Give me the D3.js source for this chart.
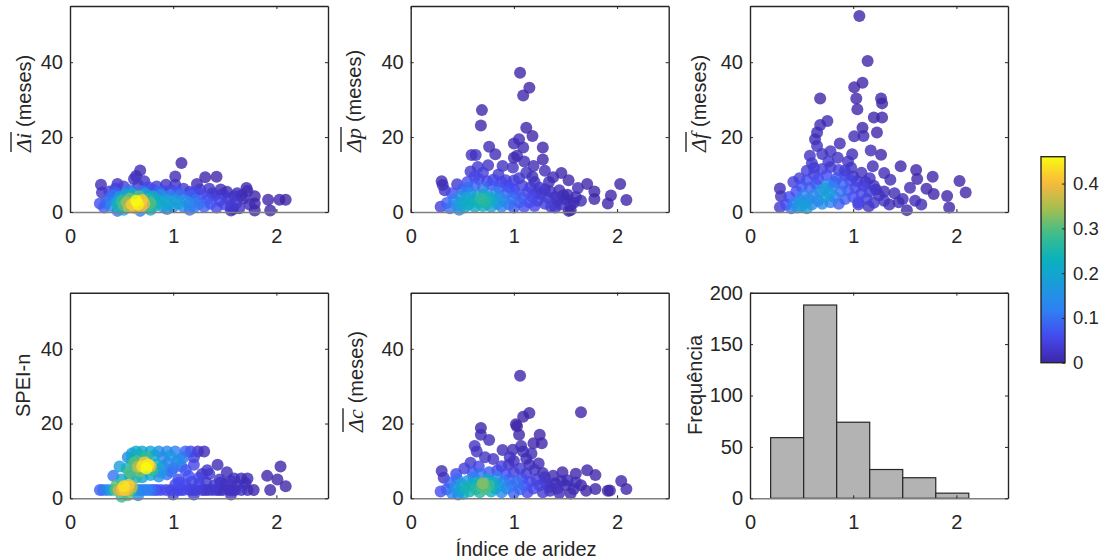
<!DOCTYPE html>
<html>
<head>
<meta charset="utf-8">
<script src="https://cdn.jsdelivr.net/npm/d3@7"></script>
<style>
  body { margin: 0; background: #fff; }
  text { font-family: Arial, "Liberation Sans", sans-serif; fill: #262626; }
</style>
</head>
<body>
<svg id="fig" width="1105" height="560"></svg>
<script>
// ticks
const xTicks = [0, 1, 2];
const yTicksScatter = [0, 20, 40];
const yTicksHist = [0, 50, 100, 150, 200];
const cbTicks = [0, 0.1, 0.2, 0.3, 0.4];

// histograma do indice de aridez
const histEdges = [0.2, 0.52, 0.84, 1.16, 1.48, 1.80, 2.12];
const histCounts = [59, 188, 74, 28, 20, 5];

// [indice de aridez, valor, cor]
const pontosDi = [
  [0.30,7.3,0.01],[0.31,5.2,0.02],[0.29,2.3,0.06],[0.33,1.2,0.08],[0.38,5.5,0.04],[0.44,6.2,0.04],
  [0.46,7.5,0.02],[0.46,0.3,0.10],[0.52,6.8,0.04],[0.58,5.8,0.08],[0.62,8.8,0.02],[0.64,9.6,0.01],
  [0.68,11.1,0.01],[0.66,7.2,0.03],[0.68,0.3,0.12],[0.72,8.2,0.02],[0.76,6.6,0.05],[0.80,6.0,0.06],
  [0.84,6.8,0.03],[0.90,5.6,0.05],[0.93,7.3,0.02],[0.98,5.8,0.05],[1.02,9.5,0.01],[1.02,7.3,0.02],
  [1.08,13.1,0.00],[1.10,6.2,0.03],[1.16,5.4,0.04],[1.23,7.5,0.01],[1.26,6.0,0.03],[1.31,9.3,0.00],
  [1.35,6.2,0.02],[1.42,9.4,0.00],[1.46,6.0,0.01],[1.52,5.4,0.01],[1.56,0.4,0.01],[1.58,0.8,0.01],
  [1.62,5.0,0.01],[1.71,6.4,0.00],[1.79,4.2,0.00],[1.79,2.3,0.00],[1.79,0.4,0.00],[1.92,3.3,0.00],
  [1.94,0.4,0.00],[2.03,3.3,0.00],[2.09,3.3,0.00],[1.72,5.6,0.01],[1.68,3.6,0.01],[1.74,2.0,0.01],
  [0.35,2.4,0.09],[0.38,3.6,0.10],[0.40,1.6,0.14],[0.42,4.4,0.10],[0.45,2.6,0.20],[0.47,1.2,0.24],
  [0.48,4.0,0.18],[0.50,3.0,0.28],[0.52,1.8,0.30],[0.54,4.6,0.20],[0.55,2.6,0.34],[0.57,1.2,0.36],
  [0.58,3.6,0.32],[0.60,2.0,0.42],[0.61,4.8,0.22],[0.63,1.0,0.38],[0.64,3.0,0.46],[0.66,2.0,0.45],
  [0.67,4.2,0.30],[0.69,1.4,0.40],[0.70,3.2,0.42],[0.72,2.2,0.38],[0.73,4.8,0.20],[0.75,1.2,0.28],
  [0.76,3.4,0.26],[0.78,2.4,0.30],[0.80,4.2,0.22],[0.82,1.6,0.24],[0.84,3.2,0.22],[0.86,2.4,0.20],
  [0.88,4.6,0.14],[0.90,1.4,0.18],[0.92,3.4,0.18],[0.95,2.2,0.20],[0.97,4.4,0.12],[1.00,1.4,0.15],
  [1.02,3.2,0.17],[1.05,2.2,0.18],[1.07,4.6,0.10],[1.10,1.4,0.13],[1.12,3.0,0.14],[1.15,2.2,0.14],
  [1.17,4.4,0.08],[1.20,1.2,0.11],[1.22,3.2,0.10],[1.25,2.2,0.10],[1.28,4.6,0.05],[1.30,1.4,0.08],
  [1.33,3.4,0.06],[1.36,2.2,0.07],[1.40,4.4,0.03],[1.42,1.2,0.05],[1.45,3.0,0.05],[1.48,4.8,0.02],
  [1.50,2.0,0.04],[1.53,3.6,0.03],[1.56,1.4,0.03],[1.59,4.2,0.02],[1.61,2.4,0.03],[1.64,1.0,0.02],
  [1.66,4.4,0.01],[0.44,5.2,0.08],[0.56,5.4,0.12],[0.70,5.6,0.10],[0.86,5.4,0.09],[1.04,5.4,0.07],
  [1.20,5.2,0.05],[1.38,5.0,0.03],[0.52,0.6,0.22],[0.78,0.6,0.2],[0.94,0.8,0.14],[1.16,0.6,0.1]
];

const pontosDp = [
  [1.06,37.2,0],[1.15,33.2,0],[1.09,31.1,0],[0.69,27.2,0],[0.68,23.1,0],[1.12,22.5,0],[1.18,20.3,0],
  [1.05,19.4,0.01],[1.00,18.3,0.01],[1.09,17.2,0.01],[1.28,17.2,0],[0.76,17.4,0.01],[0.82,15.4,0.01],
  [0.59,15.2,0.02],[0.63,15.2,0.02],[0.89,12.3,0.02],[0.99,11.9,0.02],[1.00,14.5,0.01],[1.03,15.0,0.01],
  [1.19,12.3,0.01],[1.28,14.0,0],[1.30,11.0,0.01],[1.38,9.3,0.01],[1.46,10.4,0],[1.53,8.5,0],
  [1.71,7.5,0],[1.62,6.4,0.01],[1.78,5.5,0],[1.78,3.5,0],[2.03,7.5,0],[1.94,4.4,0],[1.91,2.3,0],
  [2.09,3.2,0],[0.30,8.2,0.01],[0.31,7.2,0.01],[0.33,5.8,0.02],[0.29,1.4,0.04],[0.45,7.4,0.03],
  [1.53,0.3,0],[1.55,0.5,0],[0.65,12.0,0.03],[0.70,10.5,0.04],[0.62,9.5,0.05],[0.75,12.5,0.02],
  [0.85,10.0,0.03],[0.92,8.5,0.04],[1.05,9.0,0.03],[1.12,10.5,0.02],[1.20,8.0,0.02],[1.25,6.5,0.03],
  [1.35,5.5,0.02],[1.42,3.0,0.02],[1.48,4.5,0.01],[1.58,2.5,0.01],[1.65,3.0,0.01],[1.40,1.2,0.02],
  [1.10,13.5,0.01],[0.96,6.5,0.06],[0.55,8.0,0.06],[0.50,6.0,0.08],[0.40,5.0,0.06],
  [0.35,2.4,0.08],[0.38,1.0,0.10],[0.42,3.2,0.12],[0.45,1.8,0.16],[0.47,0.6,0.14],[0.48,4.2,0.14],
  [0.50,2.6,0.20],[0.52,1.2,0.20],[0.54,3.8,0.19],[0.56,2.0,0.22],[0.58,5.0,0.14],[0.60,3.0,0.22],
  [0.62,1.4,0.20],[0.64,4.2,0.20],[0.66,2.4,0.24],[0.68,3.6,0.27],[0.70,1.6,0.22],[0.71,4.8,0.18],
  [0.72,3.0,0.26],[0.74,2.2,0.24],[0.76,4.0,0.22],[0.78,1.4,0.18],[0.80,3.2,0.20],[0.82,5.2,0.12],
  [0.84,2.2,0.16],[0.86,4.0,0.14],[0.88,1.4,0.12],[0.90,3.0,0.13],[0.93,5.0,0.08],[0.95,2.0,0.10],
  [0.98,3.6,0.10],[1.00,1.2,0.08],[1.02,4.8,0.07],[1.05,2.6,0.08],[1.08,3.8,0.07],[1.10,1.4,0.06],
  [1.13,5.2,0.05],[1.15,2.6,0.06],[1.18,4.0,0.05],[1.20,1.6,0.05],[1.23,3.0,0.04],[1.26,4.8,0.03],
  [1.30,2.2,0.04],[1.33,3.8,0.03],[1.36,1.4,0.03],[1.40,4.0,0.02],[1.45,2.0,0.02],[1.50,3.4,0.01],
  [1.55,2.0,0.01],[1.60,4.0,0.01],[0.55,6.5,0.10],[0.62,7.0,0.08],[0.70,6.5,0.10],[0.78,7.2,0.07],
  [0.86,6.4,0.07],[0.94,7.0,0.05],[1.00,6.0,0.05],[0.66,8.8,0.05],[0.74,8.2,0.05],
  [0.80,8.6,0.05],[0.88,8.0,0.05],[1.00,8.4,0.04],[1.08,7.0,0.04],[1.16,6.6,0.03],[1.22,5.2,0.03],
  [1.30,6.0,0.02],[1.44,5.8,0.01],[1.52,4.6,0.01],[1.34,8.0,0.01],[1.18,9.4,0.01],[0.58,10.8,0.03]
];

const pontosDf = [
  [1.06,52.3,0],[1.14,40.3,0],[1.09,34.5,0],[1.01,33.3,0],[1.03,30.3,0],[1.04,27.4,0],[0.68,30.3,0],
  [1.27,30.3,0],[1.28,29.0,0],[1.28,25.2,0],[1.20,25.2,0],[0.75,24.3,0.01],[0.68,23.2,0.01],[1.23,21.2,0],
  [1.09,22.5,0],[1.10,20.3,0.01],[1.01,20.2,0.01],[0.65,21.2,0.01],[0.63,19.4,0.01],[0.65,17.6,0.02],
  [0.87,18.3,0.01],[0.78,16.2,0.02],[1.27,15.3,0],[1.17,16.4,0.01],[0.99,15.4,0.01],[1.46,12.2,0],
  [1.61,11.2,0],[1.77,9.4,0],[1.62,8.8,0],[2.03,8.3,0],[2.09,5.2,0],[1.91,4.3,0],[1.93,1.2,0],
  [1.78,4.8,0],[1.71,6.2,0],[1.52,0.5,0],[0.29,6.3,0.01],[0.30,4.2,0.02],[0.29,1.3,0.03],
  [1.36,8.6,0.01],[1.30,10.4,0.01],[1.19,12.2,0.01],[0.95,13.5,0.02],[0.85,14.5,0.02],[0.70,15.5,0.02],
  [0.60,13.0,0.03],[0.55,11.0,0.04],[0.48,9.0,0.04],[0.42,8.0,0.04],[1.40,5.0,0.01],[1.48,3.5,0.01],
  [1.55,6.5,0.01],[1.60,3.0,0.01],[1.66,2.0,0.01],[1.35,2.0,0.01],[1.15,1.5,0.02],[1.05,2.0,0.03],
  [1.00,9.5,0.02],[1.12,8.0,0.02],[0.92,11.0,0.03],[1.22,6.0,0.02],
  [0.35,2.0,0.06],[0.38,4.0,0.06],[0.40,1.0,0.10],[0.43,2.6,0.12],[0.45,5.5,0.06],[0.46,1.2,0.16],
  [0.48,3.2,0.14],[0.50,1.6,0.18],[0.52,4.5,0.12],[0.53,2.4,0.16],[0.55,1.0,0.18],[0.57,3.4,0.14],
  [0.58,6.5,0.08],[0.60,2.0,0.14],[0.62,4.5,0.13],[0.64,7.5,0.07],[0.66,3.0,0.14],[0.68,5.5,0.15],
  [0.70,2.2,0.14],[0.72,6.2,0.18],[0.73,4.0,0.18],[0.75,7.5,0.12],[0.77,5.0,0.17],[0.78,2.6,0.12],
  [0.80,6.8,0.12],[0.82,4.0,0.12],[0.84,9.0,0.07],[0.86,2.2,0.08],[0.88,5.5,0.10],[0.90,7.5,0.08],
  [0.92,3.5,0.08],[0.95,5.8,0.07],[0.97,8.5,0.05],[1.00,4.0,0.06],[1.02,6.5,0.05],[1.05,2.6,0.05],
  [1.08,5.0,0.05],[1.10,7.0,0.04],[1.13,3.5,0.04],[1.16,5.5,0.03],[1.20,2.5,0.03],[1.25,4.5,0.02],
  [1.30,3.0,0.02],[0.62,10.0,0.04],[0.70,11.5,0.04],[0.78,12.0,0.03],[0.66,8.8,0.06],[0.74,9.8,0.06],
  [0.86,11.2,0.04],[0.55,8.5,0.06],[0.50,6.8,0.07],[0.82,8.0,0.08],
  [0.92,9.8,0.04],[1.04,8.2,0.03],[1.08,10.5,0.02],[1.16,9.0,0.02],[1.20,7.0,0.02],[1.30,5.5,0.01],
  [1.44,2.6,0.01],[0.98,11.8,0.02],[0.76,13.5,0.03],[0.62,11.8,0.03],[0.58,15.0,0.02]
];

const pontosSpei = [
  [0.29,2.2,0.08],[0.32,2.2,0.10],[0.36,2.2,0.12],[0.40,2.2,0.20],[0.44,2.2,0.30],[0.47,2.2,0.36],
  [0.50,2.2,0.40],[0.53,2.2,0.42],[0.56,2.2,0.38],[0.59,2.2,0.30],[0.62,2.2,0.16],[0.66,2.2,0.10],
  [0.72,2.2,0.12],[0.78,2.2,0.10],[0.84,2.2,0.06],[0.98,2.2,0.05],[1.04,2.2,0.05],[1.10,2.2,0.05],
  [1.16,2.2,0.04],[1.22,2.2,0.04],[1.28,2.2,0.03],[1.34,2.2,0.03],[1.42,2.2,0.02],[1.48,2.2,0.02],
  [1.54,2.2,0.02],[1.60,2.2,0.02],[1.66,2.2,0.02],[1.72,2.2,0.01],[1.78,2.2,0.00],[1.94,2.2,0.00],
  [0.88,2.2,0.06],[0.93,2.2,0.05],[1.07,2.2,0.05],[1.19,2.2,0.04],[1.31,2.2,0.03],[1.38,2.2,0.03],
  [1.45,2.2,0.02],[1.57,2.2,0.02],[0.69,2.2,0.12],[0.75,2.2,0.12],[0.81,2.2,0.08],
  [0.50,0.4,0.28],[0.66,0.8,0.14],[1.00,1.0,0.05],[1.56,1.0,0.02],[0.56,0.8,0.3],[1.20,1.0,0.04],
  [0.45,3.5,0.30],[0.52,3.2,0.44],[0.57,3.6,0.42],[0.60,3.0,0.36],[1.02,3.6,0.05],[1.12,3.6,0.05],
  [1.25,3.8,0.04],[1.40,3.5,0.03],[1.50,3.8,0.02],[1.62,3.6,0.02],[2.09,3.2,0.00],
  [1.06,4.2,0.06],[1.18,4.4,0.05],[1.32,4.2,0.03],[1.46,4.2,0.02],[1.56,4.6,0.02],[1.70,4.0,0.01],
  [0.42,6.0,0.10],[0.50,5.0,0.20],[0.58,6.0,0.22],[0.64,5.5,0.25],[1.05,5.0,0.06],[1.15,6.0,0.06],
  [1.25,5.5,0.05],[1.35,6.5,0.03],[1.45,5.0,0.02],[1.59,5.3,0.01],[1.66,5.3,0.01],[1.72,5.3,0.01],
  [1.91,6.0,0.00],[2.01,5.0,0.00],[0.70,5.6,0.2],[0.78,6.2,0.2],[0.86,5.8,0.14],[0.94,6.4,0.1],
  [0.48,8.5,0.18],[0.55,8.0,0.24],[0.58,7.0,0.30],[0.62,9.5,0.30],[0.66,8.5,0.36],[0.70,8.5,0.44],
  [0.72,9.6,0.42],[0.74,8.0,0.46],[0.76,9.0,0.45],[0.78,8.6,0.40],[0.80,7.5,0.28],[0.84,9.0,0.22],
  [0.90,8.5,0.14],[0.95,9.5,0.12],[1.00,8.0,0.10],[1.08,8.5,0.08],[1.20,9.0,0.05],[1.33,7.5,0.02],
  [1.43,9.0,0.01],[1.52,7.0,0.01],[2.04,8.5,0.00],[1.28,6.5,0.02],[0.88,7.0,0.16],[0.98,7.2,0.1],
  [1.04,9.8,0.12],[1.12,7.5,0.07],[0.68,7.2,0.32],
  [0.56,11.0,0.14],[0.60,12.0,0.18],[0.64,12.5,0.20],[0.68,11.5,0.24],[0.70,12.5,0.20],[0.74,11.0,0.28],
  [0.78,12.5,0.20],[0.82,11.5,0.18],[0.86,12.5,0.14],[0.90,11.0,0.13],[0.97,11.4,0.16],[1.02,12.5,0.12],
  [1.06,10.4,0.15],[1.12,12.5,0.08],[1.17,12.5,0.05],[1.24,12.5,0.02],[1.30,12.5,0.01],[0.65,10.0,0.30],
  [0.60,10.5,0.22],[0.94,12.5,0.14],[1.10,11.0,0.1],[1.20,11.0,0.04]
];

const pontosDc = [
  [1.06,32.8,0],[1.65,23.0,0],[1.15,22.8,0],[1.09,21.8,0],[1.02,19.8,0],[1.03,19.3,0],[0.68,18.8,0],
  [0.68,17.0,0.01],[0.76,15.6,0.01],[1.05,17.0,0],[1.25,17.0,0],[1.27,14.7,0],[1.19,14.7,0],
  [0.89,12.9,0.01],[0.99,13.0,0.01],[1.07,14.0,0.01],[1.09,12.5,0.01],[0.62,14.0,0.02],[0.64,12.5,0.02],
  [1.17,12.0,0.01],[1.24,9.3,0.01],[1.28,6.8,0.01],[1.47,7.0,0],[1.60,6.6,0],[1.71,7.5,0],[1.79,6.2,0],
  [1.79,2.5,0],[2.04,4.6,0],[2.09,2.5,0],[1.93,2.1,0],[1.91,2.0,0],[0.30,7.3,0.01],[0.32,5.5,0.02],
  [0.29,1.8,0.06],[0.46,1.0,0.12],[1.55,1.3,0],[1.50,3.5,0.01],[1.40,4.0,0.01],[1.58,2.5,0.01],
  [1.65,3.5,0],[1.35,2.0,0.01],[0.80,10.5,0.02],[0.72,11.0,0.02],[0.95,9.0,0.02],[1.00,10.0,0.02],
  [1.15,9.0,0.01],[0.58,9.5,0.03],[0.52,8.0,0.04],[0.44,6.5,0.05],
  [0.35,2.4,0.08],[0.38,4.2,0.08],[0.40,1.4,0.12],[0.43,3.0,0.14],[0.45,5.2,0.10],[0.47,2.0,0.18],
  [0.49,3.8,0.18],[0.51,1.2,0.20],[0.53,2.8,0.24],[0.55,4.6,0.16],[0.57,1.8,0.24],[0.59,3.6,0.22],
  [0.61,5.6,0.12],[0.63,2.4,0.26],[0.65,4.2,0.24],[0.67,1.6,0.26],[0.69,3.2,0.30],[0.70,4.0,0.33],
  [0.72,2.4,0.30],[0.74,5.0,0.20],[0.76,3.4,0.28],[0.78,1.8,0.22],[0.80,4.2,0.22],[0.82,2.6,0.20],
  [0.84,5.6,0.12],[0.86,3.4,0.16],[0.88,1.6,0.14],[0.90,4.4,0.12],[0.93,2.6,0.12],[0.96,5.0,0.08],
  [0.98,3.4,0.10],[1.00,1.4,0.08],[1.03,4.2,0.10],[1.06,2.4,0.09],[1.08,5.2,0.06],[1.10,3.4,0.07],
  [1.13,1.6,0.05],[1.16,4.4,0.05],[1.19,2.6,0.05],[1.22,5.0,0.03],[1.25,3.4,0.04],[1.28,1.6,0.03],
  [1.31,4.0,0.02],[1.35,3.0,0.02],[1.42,2.6,0.02],[1.46,4.6,0.01],[0.60,7.0,0.07],[0.68,6.5,0.10],
  [0.76,7.0,0.07],[0.84,7.5,0.05],[0.92,6.5,0.06],[1.00,7.0,0.04],[0.66,8.5,0.05],
  [0.88,8.6,0.04],[1.06,8.0,0.03],[1.12,6.6,0.03],[1.20,7.6,0.02],[1.30,5.6,0.02],[1.38,6.0,0.01],
  [1.44,1.4,0.01],[1.52,4.8,0.01],[1.60,4.2,0.01],[1.70,2.0,0],[0.96,11.0,0.02],[1.12,10.6,0.01]
];

const svg = d3.select('#fig');
const fonte = 'Arial, "Liberation Sans", sans-serif';
const escuro = '#262626';

// mapa de cores tipo parula
const cMax = 0.46;
const parulaCores = ['#3e26a8','#4648ef','#2f7ff3','#1b9bde','#0bb1bc','#3cbd8c','#a5be4f','#fbb83e','#f9fb0e'];
const cor = d3.scaleLinear()
  .domain(parulaCores.map((d, i) => i / (parulaCores.length - 1) * cMax))
  .range(parulaCores)
  .clamp(true);

// layout das figuras
const colunas = [70, 410.7, 750];
const linhas = [[212, 6], [498.3, 292.7]];
const larg = 258;

function eixos(g, x, y, yt) {
  const [yb, ytop] = y.range();
  const [xl, xr] = x.range();
  const est = s => s.attr('font-size', 20).attr('font-family', fonte).attr('color', escuro);

  g.append('g').attr('transform', `translate(0,${yb})`)
    .call(d3.axisBottom(x).tickValues(xTicks).tickSize(-3).tickSizeOuter(0).tickPadding(17).tickFormat(d3.format('d')))
    .call(est)
    .call(a => a.select('.domain').attr('stroke', '#7f7f7f').attr('stroke-width', 1.6));
  g.append('g').attr('transform', `translate(0,${ytop})`)
    .call(d3.axisTop(x).tickValues(xTicks).tickSize(-3).tickSizeOuter(0).tickFormat(''))
    .call(est)
    .call(a => a.select('.domain').attr('stroke-width', 1.4));
  g.append('g').attr('transform', `translate(${xl},0)`)
    .call(d3.axisLeft(y).tickValues(yt).tickSize(-3).tickSizeOuter(0).tickPadding(7))
    .call(est)
    .call(a => a.select('.domain').attr('stroke-width', 1.4));
  g.append('g').attr('transform', `translate(${xr},0)`)
    .call(d3.axisRight(y).tickValues(yt).tickSize(-3).tickSizeOuter(0).tickFormat(''))
    .call(est)
    .call(a => a.select('.domain').attr('stroke-width', 1.4));
}

function rotuloY(p) {
  const lab = svg.append('g').attr('transform', `translate(${p.lx},${p.ly}) rotate(-90)`);
  const t = lab.append('text').attr('font-size', 20);
  if (p.sym) {
    const s = t.append('tspan')
      .attr('font-family', '"Liberation Serif", serif')
      .attr('font-style', 'italic')
      .attr('font-size', 22)
      .text(p.sym);
    t.append('tspan').attr('dx', 6).text('(meses)');
    const w = s.node().getComputedTextLength();
    lab.append('line')
      .attr('x1', 0).attr('x2', w + 1)
      .attr('y1', -20).attr('y2', -20)
      .attr('stroke', escuro).attr('stroke-width', 1.4);
  } else {
    t.text(p.txt);
  }
}

const paineis = [
  { pts: pontosDi,   col: 0, lin: 0, sym: 'Δi', lx: 31,  ly: 152 },
  { pts: pontosDp,   col: 1, lin: 0, sym: 'Δp', lx: 361, ly: 152 },
  { pts: pontosDf,   col: 2, lin: 0, sym: 'Δf', lx: 706, ly: 152 },
  { pts: pontosSpei, col: 0, lin: 1, txt: 'SPEI-n', lx: 30, ly: 417 },
  { pts: pontosDc,   col: 1, lin: 1, sym: 'Δc', lx: 363, ly: 432 }
];

paineis.forEach(p => {
  const x0 = colunas[p.col];
  const x = d3.scaleLinear().domain([0, 2.5]).range([x0, x0 + larg]);
  const y = d3.scaleLinear().domain([0, 55]).range(linhas[p.lin]);
  const g = svg.append('g');

  const ordenados = p.pts.slice().sort((a, b) => a[2] - b[2]);
  g.append('g').selectAll('circle')
    .data(ordenados)
    .join('circle')
    .attr('cx', d => x(d[0]))
    .attr('cy', d => y(d[1]))
    .attr('r', 6)
    .attr('fill', d => cor(d[2]))
    .attr('fill-opacity', 0.8);

  eixos(g, x, y, yTicksScatter);
  rotuloY(p);
});

// histograma
{
  const x = d3.scaleLinear().domain([0, 2.5]).range([colunas[2], colunas[2] + larg]);
  const y = d3.scaleLinear().domain([0, 200]).range(linhas[1]);
  const g = svg.append('g');
  g.append('g').selectAll('rect')
    .data(histCounts)
    .join('rect')
    .attr('x', (d, i) => x(histEdges[i]))
    .attr('width', (d, i) => x(histEdges[i + 1]) - x(histEdges[i]))
    .attr('y', d => y(d))
    .attr('height', d => y(0) - y(d))
    .attr('fill', '#b3b3b3')
    .attr('stroke', escuro)
    .attr('stroke-width', 1.2);
  eixos(g, x, y, yTicksHist);
  rotuloY({ txt: 'Frequência', lx: 702, ly: 435 });
}

// rotulo x
svg.append('text')
  .attr('x', 526).attr('y', 556)
  .attr('text-anchor', 'middle')
  .attr('font-size', 20)
  .text('Índice de aridez');

// barra de cores
{
  const cb = { x: 1041, y: 156.7, w: 24, h: 206 };
  const grad = svg.append('defs').append('linearGradient')
    .attr('id', 'parula').attr('x1', 0).attr('y1', 1).attr('x2', 0).attr('y2', 0);
  grad.selectAll('stop')
    .data(d3.range(0, 1.0001, 0.05))
    .join('stop')
    .attr('offset', d => d)
    .attr('stop-color', d => cor(d * cMax));
  svg.append('rect')
    .attr('x', cb.x).attr('y', cb.y).attr('width', cb.w).attr('height', cb.h)
    .attr('fill', 'url(#parula)');
  const yc = d3.scaleLinear().domain([0, cMax]).range([cb.y + cb.h, cb.y]);
  svg.append('g').attr('transform', `translate(${cb.x + cb.w},0)`)
    .call(d3.axisRight(yc).tickValues(cbTicks).tickSize(-3).tickSizeOuter(0).tickPadding(8).tickFormat(d3.format('')))
    .attr('font-size', 18.5).attr('font-family', fonte).attr('color', escuro)
    .call(a => a.select('.domain').remove());
  svg.append('rect')
    .attr('x', cb.x).attr('y', cb.y).attr('width', cb.w).attr('height', cb.h)
    .attr('fill', 'none').attr('stroke', escuro).attr('stroke-width', 1.4);
}
</script>
</body>
</html>
